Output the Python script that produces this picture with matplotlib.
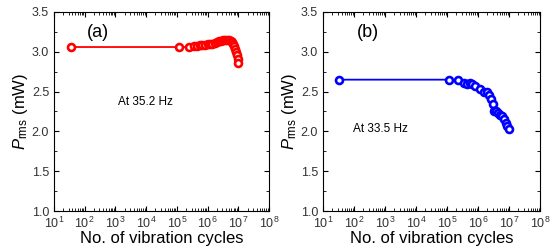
import matplotlib
matplotlib.use("Agg")
import matplotlib.pyplot as plt
from matplotlib.ticker import LogLocator, MultipleLocator, NullFormatter

plt.rcParams['font.family'] = ['Liberation Sans', 'DejaVu Sans']
plt.rcParams['mathtext.fontset'] = 'custom'
plt.rcParams['mathtext.rm'] = 'Liberation Sans'
plt.rcParams['mathtext.it'] = 'Liberation Sans:italic'

# ------------------------ DATA ------------------------

# (a) at 35.2 Hz
cycles_a = [35, 1.2e5, 2.5e5, 3.5e5, 4.5e5, 5.5e5, 6.5e5, 8e5, 1e6, 1.2e6, 1.4e6,
            1.7e6, 2e6, 2.4e6, 2.8e6, 3.2e6, 3.8e6, 4.4e6, 5e6, 5.6e6, 6.2e6,
            6.8e6, 7.4e6, 8e6, 8.5e6, 9e6, 9.5e6, 1e7]
power_a = [3.06, 3.06, 3.06, 3.07, 3.07, 3.08, 3.08, 3.09, 3.10, 3.10, 3.10,
           3.11, 3.12, 3.13, 3.14, 3.15, 3.15, 3.15, 3.15, 3.14, 3.12,
           3.10, 3.07, 3.03, 3.00, 2.96, 2.91, 2.86]

# (b) at 33.5 Hz
cycles_b = [33, 1.15e5, 2.3e5, 3.5e5, 4.5e5, 5.5e5, 6.5e5, 8e5, 1.2e6, 1.6e6,
            2e6, 2.3e6, 2.6e6, 3e6, 3.3e6, 3.8e6, 4.3e6, 5e6, 5.8e6, 6.8e6,
            7.8e6, 8.8e6, 1e7]
power_b = [2.65, 2.65, 2.64, 2.61, 2.60, 2.61, 2.59, 2.57, 2.53, 2.50,
           2.49, 2.46, 2.41, 2.35, 2.26, 2.25, 2.23, 2.21, 2.19, 2.15,
           2.11, 2.07, 2.03]

panels = [
    (cycles_a, power_a, 'red', '(a)', 'At 35.2 Hz', (0.30, 0.55)),
    (cycles_b, power_b, 'blue', '(b)', 'At 33.5 Hz', (0.14, 0.41)),
]

# ------------------------ PLOT ------------------------

fig = plt.figure(figsize=(5.5, 2.49), dpi=100)
rects = [[54/550, 1-211/249, 215/550, 199/249],
         [323/550, 1-211/249, 217/550, 199/249]]

for rect, (x, y, color, tag, note, note_pos) in zip(rects, panels):
    ax = fig.add_axes(rect)
    ax.plot(x, y, '-o', color=color, lw=1.3, ms=5, mfc='white', mec=color, mew=1.9)
    ax.set_xscale('log')
    ax.set_xlim(10, 1e8)
    ax.set_ylim(1.0, 3.5)
    ax.yaxis.set_major_locator(MultipleLocator(0.5))
    ax.yaxis.set_minor_locator(MultipleLocator(0.25))
    ax.xaxis.set_major_locator(LogLocator(base=10, numticks=20))
    ax.xaxis.set_minor_locator(LogLocator(base=10, subs=range(2, 10), numticks=20))
    ax.xaxis.set_minor_formatter(NullFormatter())
    ax.tick_params(which='both', direction='in', top=True, right=True,
                   labelsize=9, labelcolor='#333333')
    ax.tick_params(which='major', length=3.5)
    ax.tick_params(which='minor', length=2)
    ax.set_xlabel('No. of vibration cycles', fontsize=12, labelpad=0)
    ax.set_ylabel(r'$P_{\rm rms}$ (mW)', fontsize=12, labelpad=1)
    ax.text(0.155, 0.94, tag, transform=ax.transAxes, fontsize=13, va='top')
    ax.text(note_pos[0], note_pos[1], note, transform=ax.transAxes, fontsize=8.5, va='center')

fig.savefig('out.png', dpi=100)
